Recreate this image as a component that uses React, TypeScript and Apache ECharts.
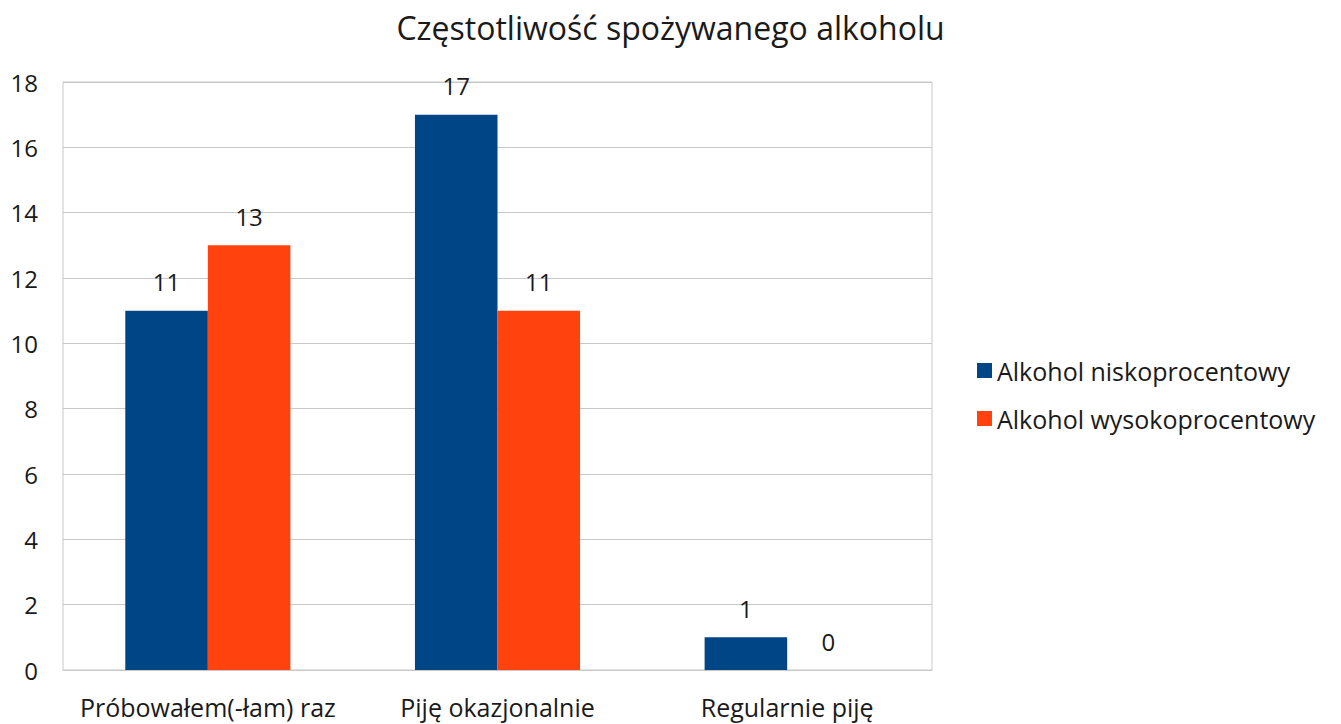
import React, { useEffect, useRef } from "react";
import * as echarts from "echarts";

const categories = ["Próbowałem(-łam) raz", "Piję okazjonalnie", "Regularnie piję"];
const lowValues = [11, 17, 1];
const highValues = [13, 11, 0];
const seriesNames = ["Alkohol niskoprocentowy", "Alkohol wysokoprocentowy"];
const titleText = "Częstotliwość spożywanego alkoholu";

const FONT = "'Open Sans', 'Noto Sans', sans-serif";

export default function App() {
  const ref = useRef<HTMLDivElement>(null);
  useEffect(() => {
    document.body.style.margin = "0";
    const chart = echarts.init(ref.current!, undefined, { renderer: "svg" });
    const labelCfg = {
      show: true,
      position: "top" as const,
      distance: 17,
      color: "#1a1a1a",
      fontSize: 24,
      fontFamily: FONT,
    };
    chart.setOption({
      animation: false,
      backgroundColor: "#fff",
      title: {
        text: titleText,
        left: "center",
        top: 6,
        textStyle: { fontSize: 32, fontWeight: "normal", color: "#1a1a1a", fontFamily: FONT },
      },
      legend: {
        orient: "vertical",
        left: 972,
        top: 353,
        itemWidth: 15,
        itemHeight: 15,
        itemGap: 23,
        icon: "rect",
        textStyle: { fontSize: 25, color: "#1a1a1a", fontFamily: FONT },
        data: seriesNames,
      },
      grid: {
        left: 63,
        right: 409,
        top: 82,
        bottom: 54,
        show: true,
        borderColor: "#c8c8c8",
        borderWidth: 1,
      },
      xAxis: {
        type: "category",
        data: categories,
        axisTick: { show: false },
        axisLine: { lineStyle: { color: "#c8c8c8" } },
        axisLabel: { fontSize: 25, color: "#1a1a1a", margin: 24, interval: 0, fontFamily: FONT },
      },
      yAxis: {
        type: "value",
        min: 0,
        max: 18,
        interval: 2,
        axisLine: { show: false },
        axisTick: { show: false },
        splitLine: { lineStyle: { color: "#c8c8c8" } },
        axisLabel: { fontSize: 24, color: "#1a1a1a", margin: 25, fontFamily: FONT },
      },
      series: [
        {
          name: seriesNames[0],
          type: "bar",
          data: lowValues,
          barGap: "0%",
          barCategoryGap: "43%",
          itemStyle: { color: "#004586" },
          label: labelCfg,
        },
        {
          name: seriesNames[1],
          type: "bar",
          data: highValues,
          barGap: "0%",
          barCategoryGap: "43%",
          itemStyle: { color: "#FF420E" },
          label: labelCfg,
        },
      ],
    });
    return () => chart.dispose();
  }, []);
  return (
    <div
      ref={ref}
      style={{ position: "absolute", left: 0, top: 0, width: 1341, height: 724 }}
    />
  );
}
